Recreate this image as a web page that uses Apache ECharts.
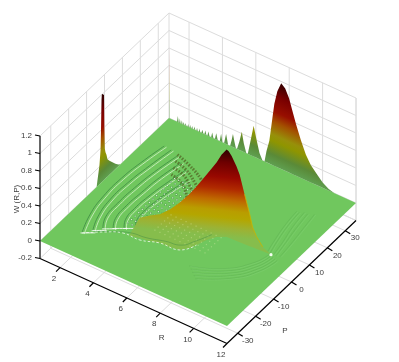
<!DOCTYPE html>
<html>
<head>
<meta charset="utf-8">
<style>html,body{margin:0;padding:0;background:#fff}#main{width:399px;height:362px}#main canvas{filter:blur(0.35px)}</style>
<script src="https://cdn.jsdelivr.net/npm/echarts@6/dist/echarts.min.js"></script>
</head>
<body>
<div id="main"></div>
<script>
// axis ranges and ticks
var rRange = [0.8, 12];
var pRange = [-36, 36];
var wRange = [-0.2, 1.2];
var rTicks = [2, 4, 6, 8, 10, 12];
var pTicks = [-30, -20, -10, 0, 10, 20, 30];
var wTicks = [-0.2, 0, 0.2, 0.4, 0.6, 0.8, 1, 1.2];

// W along the far edge P = 36
var backR = [0.8, 0.82, 1.28, 1.33, 1.38, 1.41, 1.45, 1.49, 1.53, 1.57, 1.61, 1.64, 1.68, 1.72, 1.76, 1.8, 1.84, 1.91, 1.95, 1.99, 2.03, 2.07, 2.11, 2.15, 2.19, 2.23, 2.29, 2.33, 2.37, 2.44, 2.48, 2.52, 2.59, 2.63, 2.67, 2.74, 2.8, 2.86, 2.92, 2.98, 3.04, 3.1, 3.16, 3.23, 3.32, 3.39, 3.46, 3.55, 3.63, 3.72, 3.84, 3.92, 4.0, 4.1, 4.22, 4.34, 4.46, 4.55, 4.63, 4.72, 4.81, 4.87, 5.02, 5.16, 5.28, 5.43, 5.52, 5.7, 5.87, 6.05, 6.22, 6.4, 6.52, 6.64, 6.81, 6.99, 7.11, 7.29, 7.52, 7.76, 7.99, 8.23, 8.41, 8.7, 9.0, 9.29, 9.64, 10, 10.35, 10.7, 12];
var backW = [0.83, 0, 0, 0.07, 0, 0, 0.05, 0, 0, 0.04, 0, 0, 0.03, 0, 0, 0.03, 0, 0, 0.03, 0, 0, 0.03, 0, 0, 0.03, 0, 0, 0.035, 0, 0, 0.035, 0, 0, 0.04, 0, 0, 0.04, 0, 0, 0.045, 0, 0, 0.05, 0, 0, 0.06, 0, 0, 0.07, 0, 0, 0.09, 0, 0, 0.115, 0, 0, 0.07, 0.15, 0.07, 0, 0, 0.1, 0.22, 0.1, 0, 0, 0.18, 0.35, 0.2, 0.07, 0, 0, 0.13, 0.26, 0.53, 0.71, 0.87, 0.98, 0.94, 0.85, 0.7, 0.59, 0.43, 0.29, 0.2, 0.13, 0.06, 0.02, 0, 0];

// W along the near edge R = 0.8
var spikeP = [-4.4, -3.9, -3.3, -2.8, -2.2, -1.9, -1.66, -1.5, -1.1, -0.28, -0.11, 0.16, 0.55, 1.1, 1.66, 2.77, 4.43, 6.1, 7.75, 8.86];
var spikeW = [0, 0.07, 0.15, 0.22, 0.38, 0.66, 0.94, 1, 1, 0.97, 0.62, 0.35, 0.3, 0.26, 0.2, 0.16, 0.11, 0.06, 0.02, 0];

// the big hump: foot of the front face and its height
var humpR = [4.23, 4.72, 5.25, 5.75, 6.32, 6.84, 7.17, 7.32, 7.52, 7.79, 7.99, 8.2, 8.32, 8.49, 8.77, 8.95, 9.23, 9.52, 9.69, 9.92, 10.27, 10.67];
var humpP = [-17.9, -16.8, -16.2, -15.2, -15, -14.4, -11.8, -9.4, -5.6, -2.6, -1.7, -0.8, -0.75, -0.7, -0.57, -0.5, -0.39, -0.27, -0.2, -0.11, 0.03, 0.2];
var humpW = [0.02, 0.23, 0.29, 0.33, 0.43, 0.54, 0.62, 0.67, 0.75, 0.85, 0.94, 1, 0.99, 0.95, 0.85, 0.77, 0.57, 0.37, 0.23, 0.14, 0.05, 0.01];

// interference fringes on the flat part, as [R, P] crests
var fringesLeft = [
  [[2.16, -25.3], [1.71, -16.7], [1.47, -7.3], [1.43, 3.6], [1.59, 14.9], [1.8, 24]],
  [[2.51, -22.5], [2.12, -16.1], [1.88, -7.2], [1.88, 2.7], [2.04, 13.4], [2.25, 23.7]],
  [[2.84, -19.9], [2.44, -14.7], [2.34, -7], [2.37, 2], [2.5, 12], [2.75, 22.4]],
  [[3.25, -18], [2.9, -13.5], [2.8, -6.5], [2.85, 1.5], [2.95, 10.5], [3.2, 20.5]],
  [[3.7, -16], [3.35, -12], [3.25, -6], [3.3, 1], [3.45, 9], [3.7, 18.5]],
  [[4.15, -14], [3.85, -10.5], [3.75, -5.5], [3.8, 0.5], [3.95, 7], [4.2, 15]]
];
var fringeTips = [
  [[2.1, -25.5], [2.7, -22.8]],
  [[2.45, -22.5], [3.05, -19.8]],
  [[2.8, -20], [3.4, -17.3]],
  [[3.2, -18], [3.8, -15.3]],
  [[3.65, -16], [4.25, -13.3]]
];
var fringesLow = [
  [[2.16, -25.3], [2.97, -21.1], [3.82, -17.9], [4.81, -17.6], [5.75, -15.2], [6.84, -14.4], [7.32, -9.4]]
];
var fringesLowInner = [
  [[2.6, -22.5], [3.3, -19.5], [4.1, -16.5], [5, -15.5], [5.9, -13.5], [6.7, -12.2], [7.1, -8.2], [7.5, -2.5]]
];
var fringesDark = [
  [[2.7, 23], [3.6, 21], [4.7, 17.5], [5.6, 13]],
  [[2.9, 20], [3.7, 18.5], [4.6, 15], [5.4, 11]],
  [[3.1, 17], [3.8, 16], [4.5, 13], [5.2, 9]],
  [[3.3, 14], [3.9, 13], [4.4, 11], [5, 7]]
];
var fringesRight = [
  [[10.5, 0.4], [10.3, 6], [10.05, 15], [9.95, 22]],
  [[10.67, 0.2], [10.45, 6], [10.2, 15], [10.1, 22]],
  [[10.85, 0.6], [10.7, 7], [10.45, 15], [10.3, 23]],
  [[11, 0.6], [10.85, 7], [10.65, 15], [10.5, 23]],
  [[11.2, 1], [11.1, 8], [10.95, 16], [10.8, 24]],
  [[10.67, 0.2], [10.4, -6], [9.4, -14], [7.9, -19]],
  [[10.8, -0.2], [10.55, -6.5], [9.6, -14.5], [8.1, -20]],
  [[10.95, -0.5], [10.7, -7], [9.8, -15], [8.3, -21]],
  [[11.1, -0.8], [10.85, -7.5], [10, -15.5], [8.5, -22]],
  [[11.25, -1], [11, -8], [10.2, -16], [8.7, -23]]
];

// dots of the moire lattice inside the orbit
var latticeR = [3.6, 3.85, 4.1, 4.35, 4.6, 4.85, 5.1, 5.35, 5.6, 5.85, 6.1, 6.35, 6.6, 6.85];
var latticeP = [-13, -11, -9, -7, -5, -3, -1, 1, 3, 5, 7, 9, 11, 13];
var footR = [5, 5.3, 5.6, 5.9, 6.2, 6.5, 6.8, 7.1, 7.4, 7.7, 8];
var footP = [-11, -9.2, -7.4, -5.6, -3.8, -2];

// height colour ramps, position = W
var rampBack = [[0, '#5f9f50'], [0.12, '#5a8a38'], [0.28, '#8f9500'], [0.35, '#97900a'], [0.5, '#a35000'], [0.62, '#980f00'], [0.8, '#7a0000'], [1, '#2a0000']];
var rampHump = [[0, '#86bd4c'], [0.1, '#9cb234'], [0.22, '#b4a600'], [0.3, '#b99d00'], [0.42, '#bf6a00'], [0.55, '#b02a00'], [0.68, '#980800'], [0.85, '#6e0000'], [1, '#2d0000']];

// orthographic view of the box, in page pixels
function project(r, p, w) {
  var a = (r - rRange[0]) / (rRange[1] - rRange[0]);
  var b = (p - pRange[0]) / (pRange[1] - pRange[0]);
  return [40 + 187 * a + 129 * b, 241 + 85 * a - 123 * b - 87.5 * w];
}

function stops(ramp) {
  return ramp.map(function (s) { return { offset: s[0], color: s[1] }; });
}

// gradient that follows W above a foot line of slope s
function heightFill(api, r, p, s, ramp) {
  var c = api.coord(project(r, p, 0));
  var k = 87.5 / (1 + s * s);
  return new echarts.graphic.LinearGradient(c[0], c[1], c[0] + s * k, c[1] - k, stops(ramp), true);
}

function layer(data, renderItem) {
  return { type: 'custom', coordinateSystem: 'cartesian2d', data: data, renderItem: renderItem, silent: true, clip: false, animation: false };
}

function indices(list) {
  return list.map(function (d, i) { return [i, 0]; });
}

function segment(api, a, b, style) {
  var p0 = api.coord(project(a[0], a[1], a[2]));
  var p1 = api.coord(project(b[0], b[1], b[2]));
  return { type: 'line', shape: { x1: p0[0], y1: p0[1], x2: p1[0], y2: p1[1] }, style: style };
}

function curves(list, style, shift) {
  return layer(indices(list), function (params, api) {
    var pts = list[params.dataIndex].map(function (d) {
      return api.coord(project(d[0] + (shift || 0), d[1], 0));
    });
    return { type: 'polyline', shape: { points: pts, smooth: 0.5 }, style: Object.assign({ fill: null }, style) };
  });
}

// light box lines on the walls and the floor
var boxLines = [];
var rMin = rRange[0], rMax = rRange[1], pMin = pRange[0], pMax = pRange[1], wMin = wRange[0], wMax = wRange[1];
wTicks.forEach(function (w) {
  boxLines.push([rMin, pMin, w, rMin, pMax, w]);
  boxLines.push([rMin, pMax, w, rMax, pMax, w]);
});
rTicks.forEach(function (r) {
  boxLines.push([r, pMax, wMin, r, pMax, wMax]);
  boxLines.push([r, pMin, wMin, r, pMax, wMin]);
});
pTicks.forEach(function (p) {
  boxLines.push([rMin, p, wMin, rMin, p, wMax]);
  boxLines.push([rMin, p, wMin, rMax, p, wMin]);
});
boxLines.push([rMin, pMax, wMin, rMin, pMax, wMax]);
boxLines.push([rMax, pMax, wMin, rMax, pMax, wMax]);
boxLines.push([rMax, pMax, wMin, rMin, pMax, wMin]);

var latticeDots = [];
latticeR.forEach(function (r) { latticeP.forEach(function (p) { latticeDots.push([r, p]); }); });
var footDots = [];
footR.forEach(function (r) { footP.forEach(function (p) { footDots.push([r, p]); }); });

function dots(list, color, size, opacity) {
  return layer(indices(list), function (params, api) {
    var c = api.coord(project(list[params.dataIndex][0], list[params.dataIndex][1], 0));
    return { type: 'rect', shape: { x: c[0] - size / 2, y: c[1] - size / 2, width: size, height: size }, style: { fill: color, opacity: opacity } };
  });
}

var textStyle = { fill: '#3c3c3c', font: '8px "Liberation Sans", Arial, sans-serif', verticalAlign: 'middle' };
function label(x, y, text, align) {
  return { type: 'text', x: x, y: y, style: Object.assign({}, textStyle, { text: text, align: align || 'center' }) };
}

var series = [
  layer(indices(boxLines), function (params, api) {
    var l = boxLines[params.dataIndex];
    return segment(api, l.slice(0, 3), l.slice(3), { stroke: '#dcdcdc', lineWidth: 1 });
  }),
  // spike on the R = 0.8 edge
  layer([[0, 0]], function (params, api) {
    var pts = spikeP.map(function (p) { return api.coord(project(rMin, p, 0)); });
    spikeP.slice().reverse().forEach(function (p, i) {
      pts.push(api.coord(project(rMin, p, spikeW[spikeP.length - 1 - i])));
    });
    return { type: 'polygon', shape: { points: pts }, style: { fill: heightFill(api, rMin, spikeP[8], -123 / 129, rampBack) } };
  }),
  // flat surface
  layer([[0, 0]], function (params, api) {
    var pts = [[rMin, pMin], [rMax, pMin], [rMax, pMax], [rMin, pMax]].map(function (c) {
      return api.coord(project(c[0], c[1], 0));
    });
    return { type: 'polygon', shape: { points: pts }, style: { fill: '#70c75e' } };
  }),
  // curtain of peaks on the P = 36 edge
  layer([[0, 0]], function (params, api) {
    var pts = backR.map(function (r) { return api.coord(project(r, pMax, 0)); });
    backR.slice().reverse().forEach(function (r, i) {
      pts.push(api.coord(project(r, pMax, backW[backR.length - 1 - i])));
    });
    return { type: 'polygon', shape: { points: pts }, style: { fill: heightFill(api, 7.52, pMax, 85 / 187, rampBack) } };
  }),
  curves(fringesLeft, { stroke: '#3d8a45', lineWidth: 1, opacity: 0.8 }),
  curves(fringesLeft, { stroke: '#dff4d4', lineWidth: 1, opacity: 0.75 }, 0.14),
  curves(fringeTips, { stroke: '#ffffff', lineWidth: 1, opacity: 0.85 }),
  curves(fringesDark, { stroke: '#55702a', lineWidth: 3, lineDash: [1.5, 1.5], opacity: 0.85 }),
  dots(latticeDots, '#2f7a3c', 2, 0.55),
  dots(latticeDots, '#eefbe6', 1.2, 0.85),
  curves(fringesRight, { stroke: '#5cae50', lineWidth: 0.8, opacity: 0.55 }),
  curves(fringesRight, { stroke: '#88d47a', lineWidth: 0.7, opacity: 0.5 }, 0.08),
  // front of the hump
  layer([[0, 0]], function (params, api) {
    var pts = humpR.map(function (r, i) { return api.coord(project(r, humpP[i], 0)); });
    humpR.slice().reverse().forEach(function (r, i) {
      var k = humpR.length - 1 - i;
      pts.push(api.coord(project(r, humpP[k], humpW[k])));
    });
    return { type: 'polygon', shape: { points: pts }, style: { fill: heightFill(api, 8.2, -0.8, 0.1, rampHump) } };
  }),
  // yellow rim on the lower right of the hump
  layer([[0, 0]], function (params, api) {
    var pts = [];
    humpR.forEach(function (r, i) { if (r > 9 && r < 10.4) pts.push(api.coord(project(r, humpP[i], humpW[i]))); });
    return { type: 'polyline', shape: { points: pts }, style: { fill: null, stroke: '#c9b400', lineWidth: 1, opacity: 0.8 } };
  }),
  dots(footDots, '#e4f0b0', 1.2, 0.35),
  curves(fringesLowInner, { stroke: '#3d8a45', lineWidth: 1, opacity: 0.45 }),
  curves(fringesLow, { stroke: '#ffffff', lineWidth: 0.9, lineDash: [2.5, 2], opacity: 0.8 }),
  // hot spot at the tail of the hump
  layer([[0, 0]], function (params, api) {
    var c = api.coord(project(10.75, 0.2, 0));
    return { type: 'circle', shape: { cx: c[0], cy: c[1], r: 1.6 }, style: { fill: '#f4fff0' } };
  }),
  // axes
  layer([[0, 0]], function (params, api) {
    var black = { stroke: '#000', lineWidth: 1.2 };
    var kids = [
      segment(api, [rMin, pMin, wMin], [rMin, pMin, wMax], black),
      segment(api, [rMin, pMin, wMin], [rMax, pMin, wMin], black),
      segment(api, [rMax, pMin, wMin], [rMax, pMax, wMin], black)
    ];
    wTicks.forEach(function (w) {
      var c = api.coord(project(rMin, pMin, w));
      kids.push({ type: 'line', shape: { x1: c[0] - 5, y1: c[1] - 1, x2: c[0], y2: c[1] }, style: black });
      kids.push(label(c[0] - 8, c[1] - 0.5, String(w), 'right'));
    });
    rTicks.forEach(function (r) {
      var c = api.coord(project(r, pMin, wMin));
      kids.push({ type: 'line', shape: { x1: c[0], y1: c[1], x2: c[0] - 4, y2: c[1] + 4 }, style: black });
      kids.push(label(c[0] - 6, c[1] + 11, String(r)));
    });
    pTicks.forEach(function (p) {
      var c = api.coord(project(rMax, p, wMin));
      kids.push({ type: 'line', shape: { x1: c[0], y1: c[1], x2: c[0] + 5, y2: c[1] + 3 }, style: black });
      kids.push(label(c[0] + 10, c[1] + 7.5, String(p)));
    });
    var rName = api.coord(project(7.3, pMin, wMin));
    var pName = api.coord(project(rMax, -17, wMin));
    kids.push(label(rName[0] + 13, rName[1] + 30, 'R'));
    kids.push(label(pName[0] + 24, pName[1] + 20, 'P'));
    kids.push({ type: 'text', x: 17, y: 199, rotation: Math.PI / 2, style: Object.assign({}, textStyle, { text: 'W (R,P)', align: 'center' }) });
    return { type: 'group', children: kids };
  })
];

var chart = echarts.init(document.getElementById('main'));
chart.setOption({
  animation: false,
  backgroundColor: '#fff',
  grid: { left: 0, right: 0, top: 0, bottom: 0 },
  xAxis: { type: 'value', min: 0, max: 399, show: false },
  yAxis: { type: 'value', min: 0, max: 362, inverse: true, show: false },
  series: series
});
</script>
</body>
</html>
